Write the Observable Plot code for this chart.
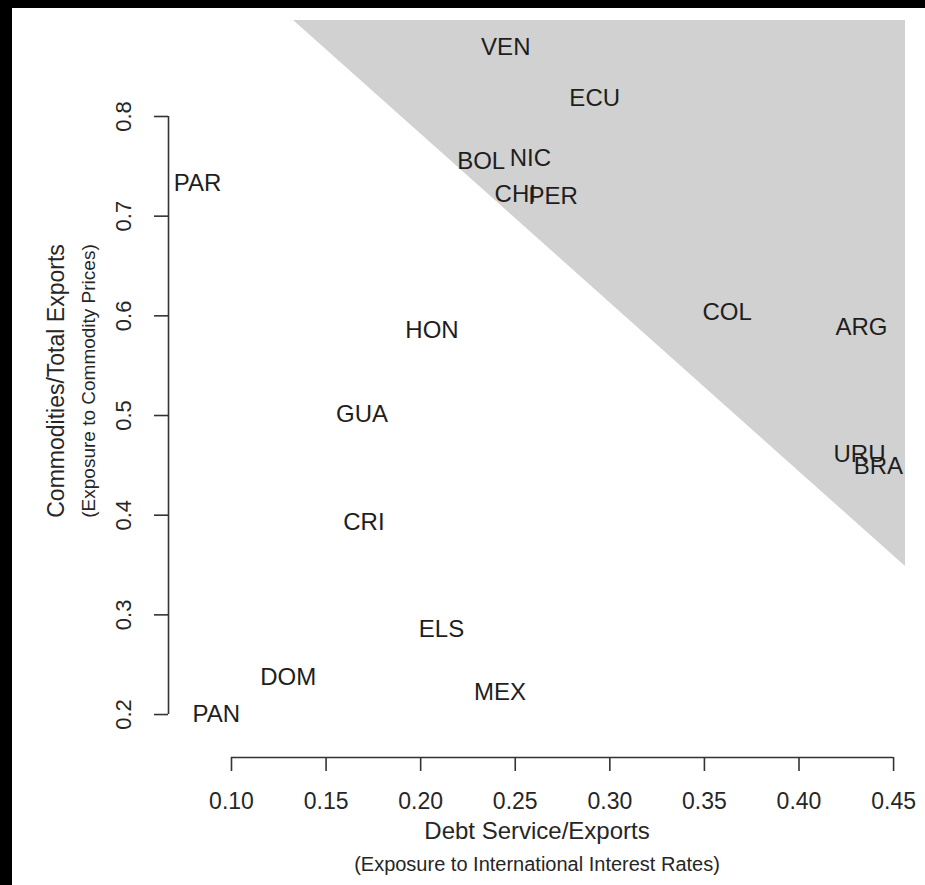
<!DOCTYPE html>
<html>
<head>
<meta charset="utf-8">
<script src="https://cdn.jsdelivr.net/npm/d3@7"></script>
<script src="https://cdn.jsdelivr.net/npm/@observablehq/plot@0.6"></script>
<style>
  html, body { margin: 0; padding: 0; background: #000; }
  #wrap { padding: 8px 0 0 12px; width: 913px; height: 877px; }
  #wrap svg { background: #fff; display: block; }
</style>
</head>
<body>
<div id="wrap"></div>
<script>
// Country codes and values (x: debt service / exports, y: commodities / total exports)
const countries = ["VEN","ECU","BOL","NIC","CHI","PER","PAR","HON","COL","ARG","GUA","URU","BRA","CRI","ELS","DOM","MEX","PAN"];
const debtService = [0.245,0.292,0.232,0.258,0.250,0.270,0.082,0.206,0.362,0.433,0.169,0.432,0.442,0.170,0.211,0.130,0.242,0.092];
const commodities = [0.869,0.818,0.755,0.758,0.722,0.720,0.733,0.585,0.604,0.588,0.501,0.461,0.449,0.393,0.286,0.237,0.222,0.200];

// Tick values
const xTicks = [0.10,0.15,0.20,0.25,0.30,0.35,0.40,0.45];
const yTicks = [0.2,0.3,0.4,0.5,0.6,0.7,0.8];

// Shaded high-exposure region: hypotenuse endpoints
const triX = [0.1328, 0.4563];
const triY = [0.8963, 0.3485];

const xDomain = [0.0667, 0.4563];
const yDomain = [0.1569, 0.8963];

const points = countries.map((c, i) => ({code: c, x: debtService[i], y: commodities[i]}));
const tri = triX.map((x, i) => ({x, y: triY[i]}));

const font = "'Liberation Sans', Arial, Helvetica, sans-serif";

const chart = Plot.plot({
  width: 913,
  height: 877,
  marginLeft: 156,
  marginRight: 20,
  marginTop: 12,
  marginBottom: 128,
  style: {fontFamily: font, fontSize: "23px", color: "#262626", background: "#fff"},
  x: {domain: xDomain},
  y: {domain: yDomain},
  marks: [
    Plot.areaY(tri, {x: "x", y1: "y", y2: d3.max(triY), fill: "#d1d1d1", clip: true}),
    // x axis
    Plot.ruleY([yDomain[0]], {x1: d3.min(xTicks), x2: d3.max(xTicks), stroke: "#333", strokeWidth: 1.6}),
    Plot.axisX({ticks: xTicks, tickSize: 14, tickPadding: 21, tickFormat: d3.format(".2f"),
                label: null, fontSize: 23, strokeWidth: 1.6, stroke: "#333"}),
    // y axis
    Plot.ruleX([xDomain[0]], {y1: d3.min(yTicks), y2: d3.max(yTicks), stroke: "#333", strokeWidth: 1.6}),
    Plot.axisY({ticks: yTicks, tickSize: 14, tickFormat: () => "", label: null, strokeWidth: 1.6, stroke: "#333"}),
    Plot.text(yTicks, {x: xDomain[0], y: d => d, text: d3.format(".1f"), rotate: -90,
                       textAnchor: "middle", lineAnchor: "bottom", dx: -38, fontSize: 22, fill: "#262626"}),
    // axis titles
    Plot.text(["Debt Service/Exports"], {frameAnchor: "bottom", text: d => d, lineAnchor: "bottom",
                       dy: 81, fontSize: 24, fill: "#262626"}),
    Plot.text(["(Exposure to International Interest Rates)"], {frameAnchor: "bottom", text: d => d, lineAnchor: "bottom",
                       dy: 113, fontSize: 20, fill: "#262626"}),
    Plot.text(["Commodities/Total Exports"], {frameAnchor: "left", text: d => d, rotate: -90,
                       textAnchor: "middle", lineAnchor: "bottom",
                       dx: -105, dy: -8, fontSize: 23, fill: "#262626"}),
    Plot.text(["(Exposure to Commodity Prices)"], {frameAnchor: "left", text: d => d, rotate: -90,
                       textAnchor: "middle", lineAnchor: "bottom",
                       dx: -74, dy: -8, fontSize: 19, fill: "#262626"}),
    // country labels
    Plot.text(points, {x: "x", y: "y", text: "code", fontSize: 24, fill: "#1e1e1e"})
  ]
});
document.getElementById("wrap").appendChild(chart);
</script>
</body>
</html>
